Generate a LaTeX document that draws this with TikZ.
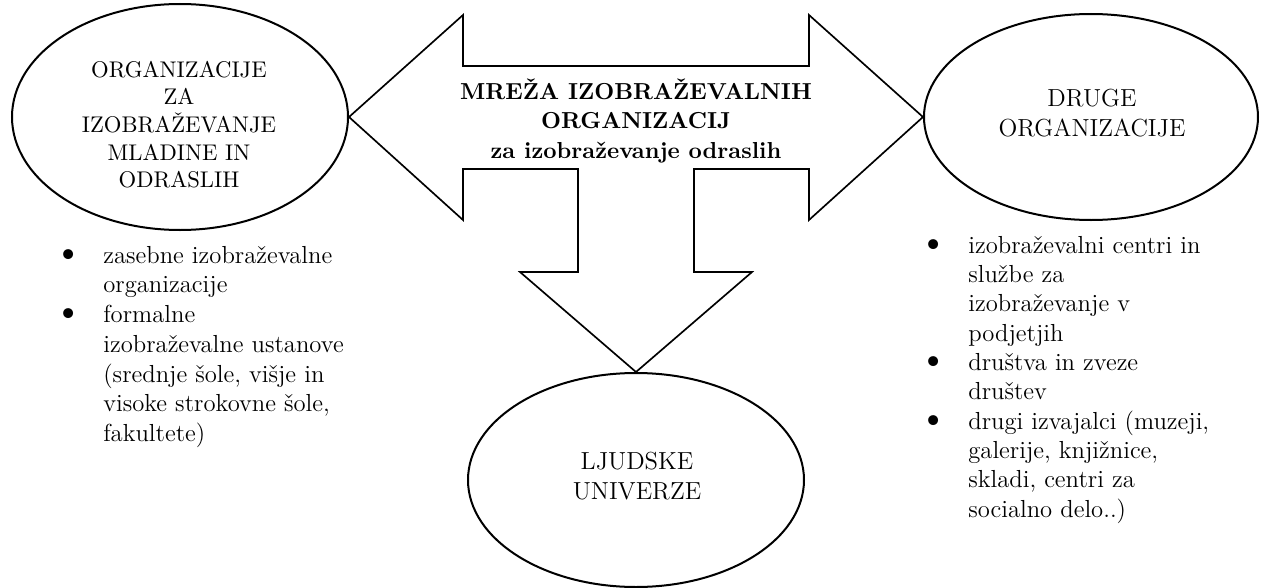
\documentclass[tikz,border=0pt]{standalone}
\usepackage{fontspec}
\usetikzlibrary{shapes.geometric}
\newcommand{\stackc}[1]{\begin{tabular}[t]{@{}c@{}}#1\end{tabular}}
\newcommand{\bulletlist}[1]{\begin{tabular}[t]{@{}p{22pt}@{}l@{}}#1\end{tabular}}
\newcommand{\listbullet}{\scalebox{1.5}{\textbullet}}

\begin{document}
\begin{tikzpicture}[x=0.45pt, y=-0.45pt,
        font=\fontsize{11.1}{13.5}\selectfont,
        oval/.style={draw, ellipse, line width=0.9pt, inner sep=0pt},
        ovaltext/.style={anchor=base, inner sep=0pt},
        bigarrow/.style={draw, line width=0.75pt, line join=miter},
        listtext/.style={anchor=base west, inner sep=0pt}]
        % frame
        \useasboundingbox (0,0) rectangle (1261,588);
        % ovals
        \node[oval, minimum width=151.2pt, minimum height=101.7pt] (mladina) at (180,117) {};
        \node[oval, minimum width=150.3pt, minimum height=92.7pt] (druge) at (1091,117) {};
        \node[oval, minimum width=151.2pt, minimum height=96.3pt] (univerze) at (636,480) {};
        % texts in ovals
        \node[ovaltext, font=\fontsize{10.2}{12.4}\selectfont] (mladinaT) at (179,77)
            {\stackc{ORGANIZACIJE\\ ZA\\ IZOBRAŽEVANJE\\ MLADINE IN\\ ODRASLIH}};
        \node[ovaltext] (drugeT) at (1092,106) {\stackc{DRUGE\\ ORGANIZACIJE}};
        \node[ovaltext] (univerzeT) at (637,469) {\stackc{LJUDSKE\\ UNIVERZE}};
        % the three-way arrow
        \path[bigarrow] (mladina.east) -- (463,15) -- (463,66) -- (809,66) -- (809,15)
            -- (druge.west) -- (809,220) -- (809,169) -- (694,169) -- (694,272)
            -- (752,272) -- (univerze.north) -- (520,272) -- (578,272) -- (578,169)
            -- (463,169) -- (463,220) -- cycle;
        \node[ovaltext, font=\fontsize{10.4}{13.3}\selectfont\bfseries] (mreza) at (636,99)
            {\stackc{MREŽA IZOBRAŽEVALNIH\\ ORGANIZACIJ\\ za izobraževanje odraslih}};
        % lists
        \node[listtext, font=\fontsize{11.1}{13.4}\selectfont] (listL) at (54,263)
            {\bulletlist{\listbullet & zasebne izobraževalne\\
                         & organizacije\\
             \listbullet & formalne\\
                         & izobraževalne ustanove\\
                         & (srednje šole, višje in\\
                         & visoke strokovne šole,\\
                         & fakultete)}};
        \node[listtext, font=\fontsize{11.1}{13.2}\selectfont] (listR) at (919,253)
            {\bulletlist{\listbullet & izobraževalni centri in\\
                         & službe za\\
                         & izobraževanje v\\
                         & podjetjih\\
             \listbullet & društva in zveze\\
                         & društev\\
             \listbullet & drugi izvajalci (muzeji,\\
                         & galerije, knjižnice,\\
                         & skladi, centri za\\
                         & socialno delo..)}};
    \end{tikzpicture}
\end{document}
